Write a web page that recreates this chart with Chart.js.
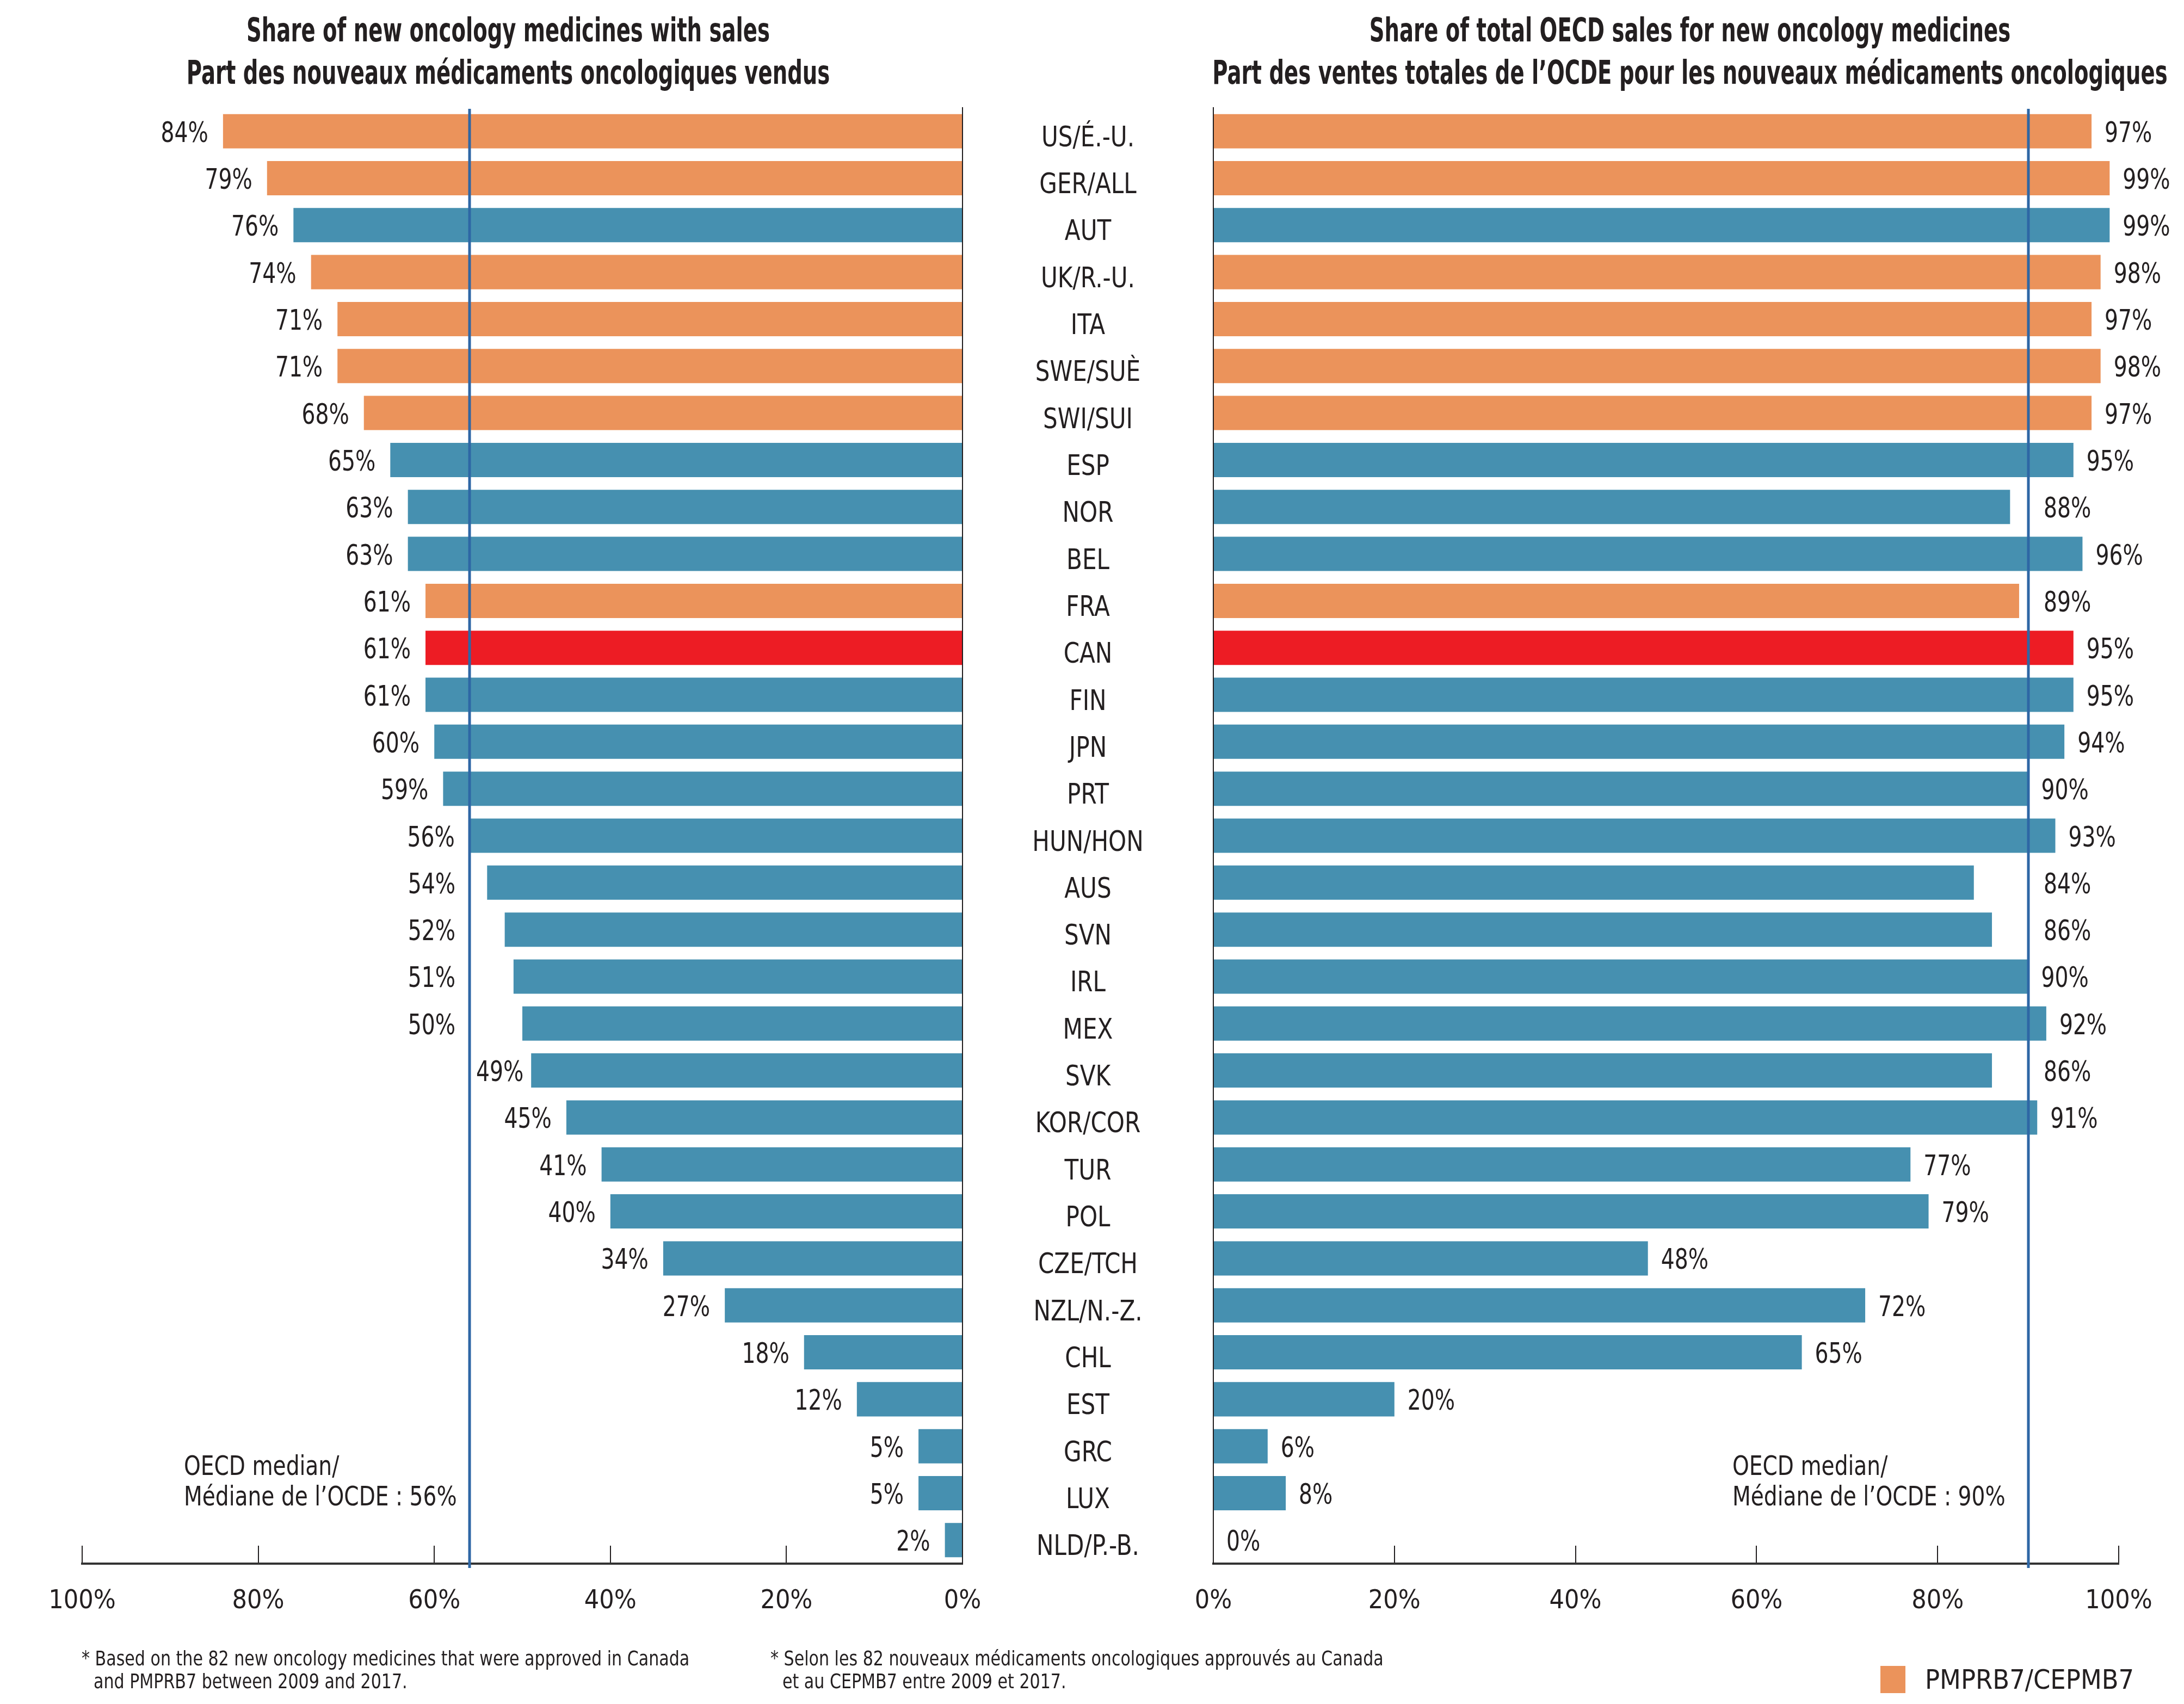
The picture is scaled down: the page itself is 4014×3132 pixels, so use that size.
<!DOCTYPE html>
<html>
<head>
<meta charset="utf-8">
<script src="https://cdn.jsdelivr.net/npm/chart.js@4"></script>
<style>
  body { margin: 0; background: #fff; }
  #page { position: relative; width: 4014px; height: 3132px; overflow: hidden; color: #231f20;
          font-family: 'Liberation Sans Narrow', 'DejaVu Sans Condensed', 'Arial Narrow', sans-serif; }
  canvas { position: absolute; top: 0; }
  #leftChart { left: 0; }
  #rightChart { left: 2100px; }
  .title { position: absolute; font-weight: bold; font-size: 60px; line-height: 78px; white-space: nowrap;
           text-align: center; transform: translateX(-50%) scaleX(0.715); }
  .note { position: absolute; font-size: 50px; line-height: 56px; white-space: nowrap;
          transform: scaleX(0.87); transform-origin: left top; }
  .foot { position: absolute; font-size: 38px; line-height: 42px; white-space: nowrap; padding-left: 25px; text-indent: -25px;
          transform: scaleX(0.88); transform-origin: left top; }
  #legend { position: absolute; left: 3456px; top: 3062px; font-size: 50px; line-height: 50px; white-space: nowrap; }
  #legend span { display: inline-block; width: 46px; height: 50px; background: #eb935b; vertical-align: top; margin-right: 36px; }
</style>
</head>
<body>
<div id="page">
  <canvas id="leftChart" width="2230" height="3132"></canvas>
  <canvas id="rightChart" width="2014" height="3132"></canvas>

  <div class="title" style="left:934px; top:16px;">Share of new oncology medicines with sales<br>Part des nouveaux médicaments oncologiques vendus</div>
  <div class="title" style="left:3106px; top:16px;">Share of total OECD sales for new oncology medicines<br>Part des ventes totales de l’OCDE pour les nouveaux médicaments oncologiques</div>

  <div class="note" style="left:338px; top:2666px;">OECD median/<br>Médiane de l’OCDE : 56%</div>
  <div class="note" style="left:3184px; top:2666px;">OECD median/<br>Médiane de l’OCDE : 90%</div>

  <div class="foot" style="left:150px; top:3027px;">* Based on the 82 new oncology medicines that were approved in Canada<br>and PMPRB7 between 2009 and 2017.</div>
  <div class="foot" style="left:1416px; top:3027px;">* Selon les 82 nouveaux médicaments oncologiques approuvés au Canada<br>et au CEPMB7 entre 2009 et 2017.</div>

  <div id="legend"><span></span>PMPRB7/CEPMB7</div>
</div>

<script>
// Pays (ordre du graphique)
const countries = ['US/É.-U.', 'GER/ALL', 'AUT', 'UK/R.-U.', 'ITA', 'SWE/SUÈ', 'SWI/SUI', 'ESP', 'NOR', 'BEL',
  'FRA', 'CAN', 'FIN', 'JPN', 'PRT', 'HUN/HON', 'AUS', 'SVN', 'IRL', 'MEX', 'SVK', 'KOR/COR', 'TUR', 'POL',
  'CZE/TCH', 'NZL/N.-Z.', 'CHL', 'EST', 'GRC', 'LUX', 'NLD/P.-B.'];

// Part des nouveaux médicaments oncologiques vendus (%)
const shareWithSales = [84, 79, 76, 74, 71, 71, 68, 65, 63, 63, 61, 61, 61, 60, 59, 56, 54, 52, 51, 50, 49, 45,
  41, 40, 34, 27, 18, 12, 5, 5, 2];

// Part des ventes totales de l'OCDE (%)
const shareOfSales = [97, 99, 99, 98, 97, 98, 97, 95, 88, 96, 89, 95, 95, 94, 90, 93, 84, 86, 90, 92, 86, 91,
  77, 79, 48, 72, 65, 20, 6, 8, 0];

const pmprb7 = ['US/É.-U.', 'GER/ALL', 'UK/R.-U.', 'ITA', 'SWE/SUÈ', 'SWI/SUI', 'FRA'];
const highlight = 'CAN';
const medianWithSales = 56;
const medianOfSales = 90;
const xTicks = [0, 20, 40, 60, 80, 100];

const FONT = "'Liberation Sans Narrow', 'DejaVu Sans Condensed', 'Arial Narrow', sans-serif";
const INK = '#231f20';
const SQUEEZE = 0.84;
const colors = countries.map(c => c === highlight ? '#ed1c24' : (pmprb7.includes(c) ? '#eb935b' : '#4690b0'));

Chart.defaults.font.family = FONT;
Chart.defaults.font.size = 48;
Chart.defaults.color = INK;

// texte un peu comprimé (la police d'origine est étroite)
function narrowText(ctx, text, x, y, align, sx) {
  ctx.save();
  ctx.translate(x, y);
  ctx.scale(sx, 1);
  ctx.textAlign = align;
  ctx.fillText(text, 0, 0);
  ctx.restore();
}

// Ligne de médiane, étiquettes de valeurs et noms de pays
const barExtras = {
  id: 'barExtras',
  afterDatasetsDraw(chart, args, opts) {
    const { ctx, chartArea } = chart;
    const xs = chart.scales.x, ys = chart.scales.y;
    const meta = chart.getDatasetMeta(0);
    const values = chart.data.datasets[0].data;
    ctx.save();

    const mx = Math.round(xs.getPixelForValue(opts.median));
    ctx.strokeStyle = '#2e67a5';
    ctx.lineWidth = 5;
    ctx.beginPath();
    ctx.moveTo(mx, chartArea.top + 2);
    ctx.lineTo(mx, chartArea.bottom + 8);
    ctx.stroke();

    ctx.font = '52px ' + FONT;
    ctx.fillStyle = INK;
    ctx.textBaseline = 'middle';
    meta.data.forEach((bar, i) => {
      const txt = values[i] + '%';
      const w = ctx.measureText(txt).width * SQUEEZE;
      if (opts.side === 'left') {
        // bord droit de l'étiquette; on évite la ligne de médiane
        let right = bar.x - 27;
        if (right - w < mx + 8 && right > mx - 8) {
          const alt = mx + w + 12;
          right = alt <= bar.x - 8 ? alt : mx - 26;
        }
        narrowText(ctx, txt, right, bar.y + 6, 'right', SQUEEZE);
      } else {
        let left = bar.x + 24;
        if (left < mx + 8 && left + w > mx - 8) left = mx + 28;
        narrowText(ctx, txt, left, bar.y + 6, 'left', SQUEEZE);
      }
    });

    if (opts.categories) {
      const cx = (chartArea.right + chart.width) / 2;
      chart.data.labels.forEach((lab, i) => narrowText(ctx, lab, cx, ys.getPixelForValue(i) + 14, 'center', 0.9));
    }
    ctx.restore();
  }
};

function makeChart(id, values, opts) {
  const left = opts.side === 'left';
  return new Chart(document.getElementById(id), {
    type: 'bar',
    data: {
      labels: countries,
      datasets: [{
        data: values,
        backgroundColor: colors,
        borderWidth: 0,
        barPercentage: 0.73,
        categoryPercentage: 1
      }]
    },
    options: {
      indexAxis: 'y',
      responsive: false,
      animation: false,
      layout: { padding: opts.padding },
      scales: {
        x: {
          min: 0,
          max: 100,
          reverse: left,
          afterBuildTicks: s => { s.ticks = xTicks.map(v => ({ value: v })); },
          ticks: { padding: 74, callback: v => v + '%', maxRotation: 0 },
          grid: { drawOnChartArea: false, drawTicks: true, tickLength: -33, color: INK, lineWidth: 2 },
          border: { display: true, color: '#333', width: 4 },
          afterFit: s => { s.height = 258; }
        },
        y: {
          position: left ? 'right' : 'left',
          ticks: { display: false },
          grid: { display: false },
          border: { display: true, color: INK, width: 2 },
          afterFit: s => { s.width = opts.yWidth; }
        }
      },
      plugins: {
        legend: { display: false },
        tooltip: { enabled: false },
        barExtras: { median: opts.median, side: opts.side, categories: left }
      }
    },
    plugins: [barExtras]
  });
}

makeChart('leftChart', shareWithSales, {
  side: 'left', median: medianWithSales, yWidth: 461,
  padding: { left: 151, top: 198, right: 0, bottom: 0 }
});

makeChart('rightChart', shareOfSales, {
  side: 'right', median: medianOfSales, yWidth: 130,
  padding: { left: 0, top: 198, right: 220, bottom: 0 }
});
</script>
</body>
</html>
